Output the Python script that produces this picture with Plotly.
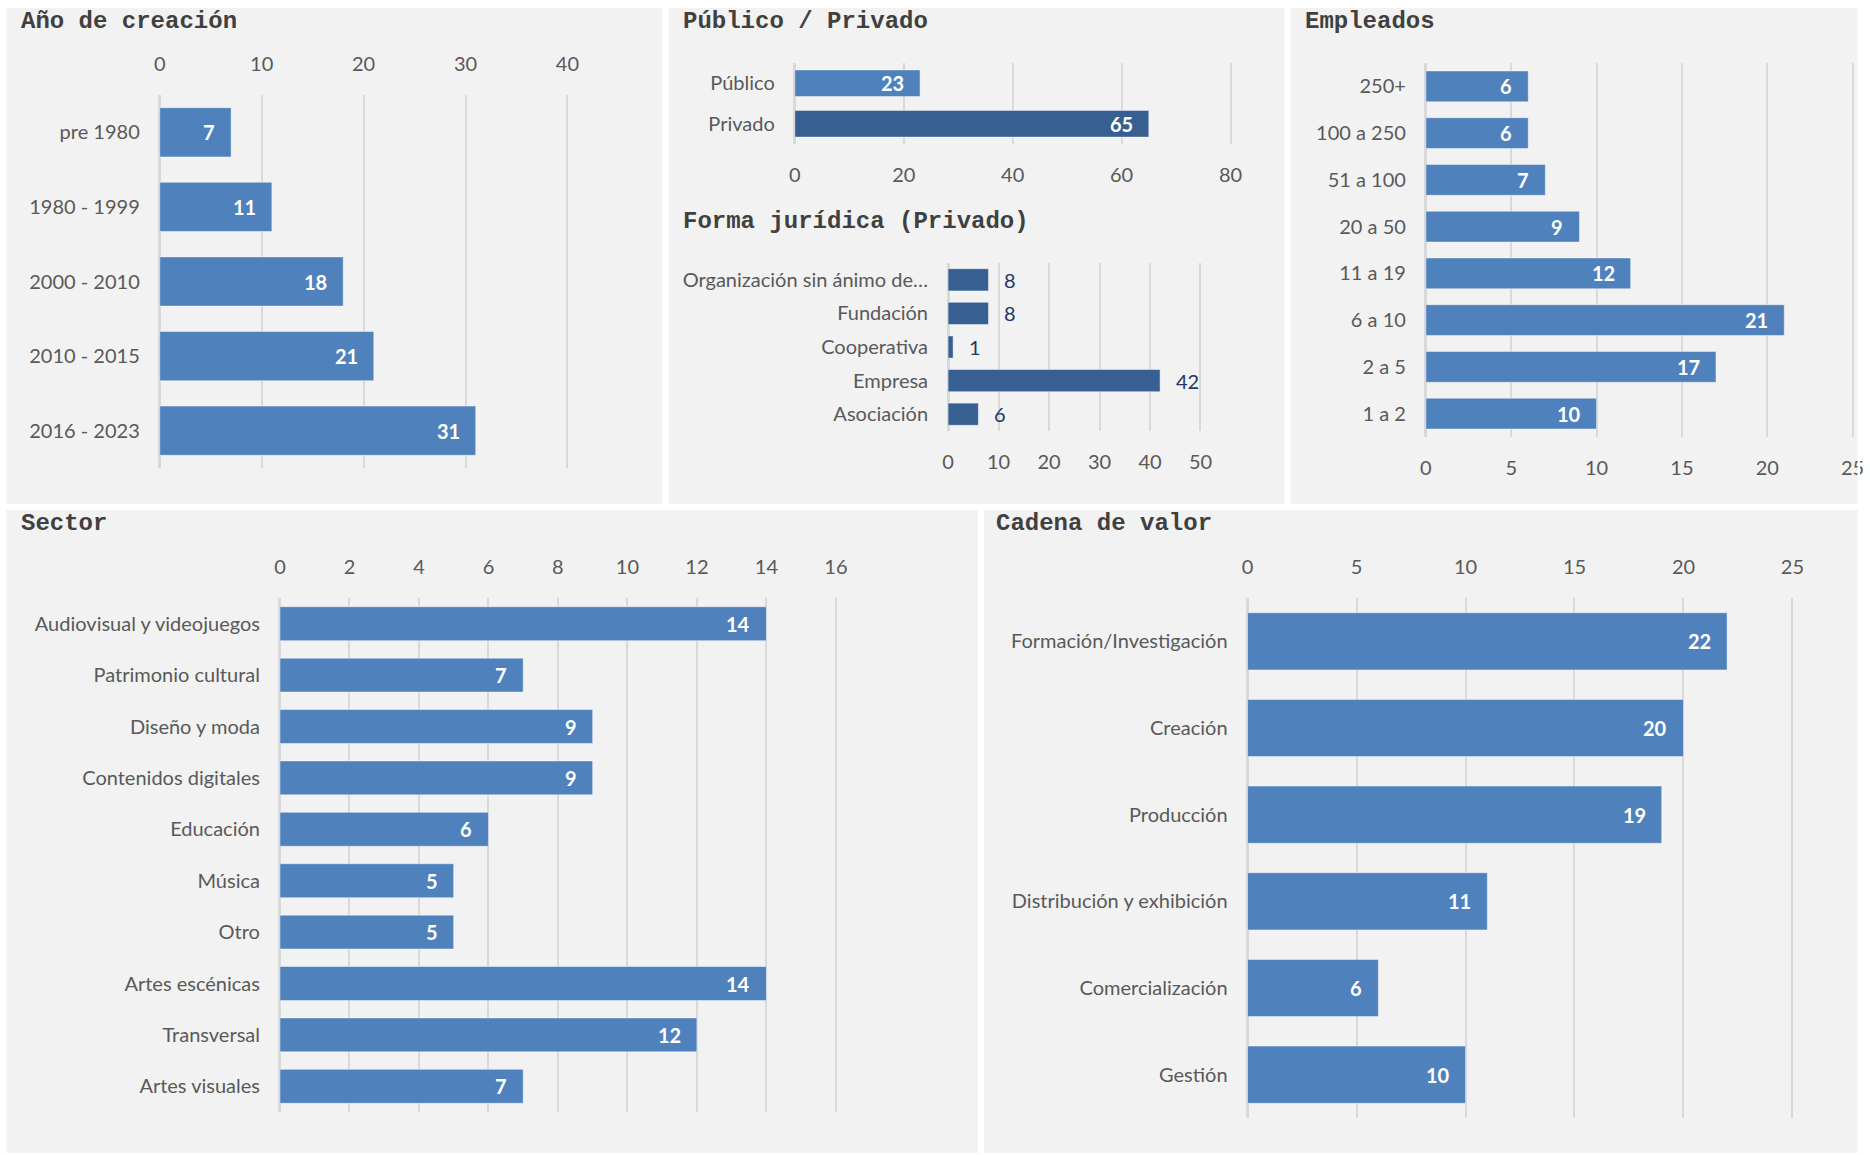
import plotly.graph_objects as go

W, H = 1870, 1155

# ---- data ----
anio_cats = ["pre 1980", "1980 - 1999", "2000 - 2010", "2010 - 2015", "2016 - 2023"]
anio_vals = [7, 11, 18, 21, 31]

pubpriv_cats = ["Público", "Privado"]
pubpriv_vals = [23, 65]

forma_cats = ["Organización sin ánimo de…", "Fundación", "Cooperativa", "Empresa", "Asociación"]
forma_vals = [8, 8, 1, 42, 6]

empleados_cats = ["250+", "100 a 250", "51 a 100", "20 a 50", "11 a 19", "6 a 10", "2 a 5", "1 a 2"]
empleados_vals = [6, 6, 7, 9, 12, 21, 17, 10]

sector_cats = ["Audiovisual y videojuegos", "Patrimonio cultural", "Diseño y moda",
               "Contenidos digitales", "Educación", "Música", "Otro",
               "Artes escénicas", "Transversal", "Artes visuales"]
sector_vals = [14, 7, 9, 9, 6, 5, 5, 14, 12, 7]

cadena_cats = ["Formación/Investigación", "Creación", "Producción",
               "Distribución y exhibición", "Comercialización", "Gestión"]
cadena_vals = [22, 20, 19, 11, 6, 10]

# ---- style ----
BLUE = "#4f81bd"
DARK = "#375f92"
NAVY = "#203864"
PANEL = "#f2f2f2"
GRID = "#d9d9d9"
LABEL = "#595959"
TITLE = "#404040"
SANS = "Lato, sans-serif"
MONO = "Liberation Mono, DejaVu Sans Mono, monospace"
FS = 20
EDGE = 0.006  # small overshoot so the last gridline is kept inside the plot area

fig = go.Figure()


def px_x(v):
    # horizontal pixel position -> paper fraction (small correction for page offset/scale)
    return (v - 6.5) / 0.9898 / W


def px_y(v):
    return 1 - v / H


def panel(idx, cats, vals, xmax, dtick, xdom, ydom, side, colors, inside=True):
    ax = "" if idx == 1 else str(idx)
    x0, x1 = xdom
    x1 = x0 + (x1 - x0) * (1 + EDGE)
    fig.add_trace(go.Bar(
        y=cats, x=vals, orientation="h", width=0.66,
        marker=dict(color=colors, line=dict(color="rgba(255,255,255,0.45)", width=1)),
        xaxis="x" + ax, yaxis="y" + ax, hoverinfo="skip", showlegend=False,
    ))
    for c, v in zip(cats, vals):
        if inside:
            fig.add_annotation(x=v, y=c, xref="x" + ax, yref="y" + ax, text=str(v),
                               xanchor="right", xshift=-14, showarrow=False,
                               font=dict(family=SANS, size=FS, color="white", weight="bold"))
        else:
            fig.add_annotation(x=v, y=c, xref="x" + ax, yref="y" + ax, text=str(v),
                               xanchor="left", xshift=14, showarrow=False,
                               font=dict(family=SANS, size=FS, color=NAVY))
    fig.update_layout(**{
        "xaxis" + ax: dict(
            domain=[px_x(x0), px_x(x1)], range=[0, xmax * (1 + EDGE)],
            dtick=dtick, tick0=0,
            side=side, anchor="y" + ax, showgrid=True, gridcolor=GRID, gridwidth=2,
            zeroline=True, zerolinecolor=GRID, zerolinewidth=3, showline=False,
            ticks="", ticklabelstandoff=19 if side == "top" else 17,
            tickfont=dict(family=SANS, size=FS, color=LABEL), fixedrange=True,
        ),
        "yaxis" + ax: dict(
            domain=[px_y(ydom[1]), px_y(ydom[0])], type="category",
            categoryorder="array", categoryarray=cats, autorange="reversed",
            anchor="x" + ax, showgrid=False, zeroline=False, showline=False,
            ticks="", ticklabelstandoff=19,
            tickfont=dict(family=SANS, size=FS, color=LABEL), fixedrange=True,
        ),
    })


panel(1, anio_cats, anio_vals, 40, 10, (160, 567), (95, 468), "top", BLUE)
panel(2, pubpriv_cats, pubpriv_vals, 80, 20, (794, 1229), (63, 144), "bottom", [BLUE, DARK])
panel(3, forma_cats, forma_vals, 50, 10, (947, 1199), (263, 431), "bottom", DARK, inside=False)
panel(4, empleados_cats, empleados_vals, 25, 5, (1424, 1850), (63, 437), "bottom", BLUE)
panel(5, sector_cats, sector_vals, 16, 2, (280, 835), (598, 1112), "top", BLUE)
panel(6, cadena_cats, cadena_vals, 25, 5, (1246, 1790), (598, 1118), "top", BLUE)

# panel backgrounds
panels = [(7, 8, 662, 504), (668, 8, 1283, 504), (1289, 8, 1855, 504),
          (7, 510, 977, 1153), (983, 510, 1855, 1153)]
for x0, y0, x1, y1 in panels:
    fig.add_shape(type="rect", xref="paper", yref="paper", layer="below",
                  x0=px_x(x0), x1=px_x(x1), y0=px_y(y1), y1=px_y(y0),
                  fillcolor=PANEL, line=dict(width=0))
# white edge on the right, cutting the last tick label of the Empleados axis
fig.add_shape(type="rect", xref="paper", yref="paper", layer="above",
              x0=px_x(1855), x1=1, y0=px_y(504), y1=px_y(8),
              fillcolor="white", line=dict(width=0))

titles = [("Año de creación", 19, 21), ("Público / Privado", 680, 21),
          ("Forma jurídica (Privado)", 680, 221), ("Empleados", 1301, 21),
          ("Sector", 19, 523), ("Cadena de valor", 993, 523)]
for t, x, y in titles:
    fig.add_annotation(text=t, x=px_x(x), y=px_y(y), xref="paper", yref="paper",
                       xanchor="left", yanchor="middle", showarrow=False,
                       font=dict(family=MONO, size=24, color=TITLE, weight="bold"))

fig.update_layout(width=W, height=H, margin=dict(l=0, r=0, t=0, b=0),
                  paper_bgcolor="white", plot_bgcolor="rgba(0,0,0,0)",
                  showlegend=False)

fig.write_html("out.html", config={"displayModeBar": False})
